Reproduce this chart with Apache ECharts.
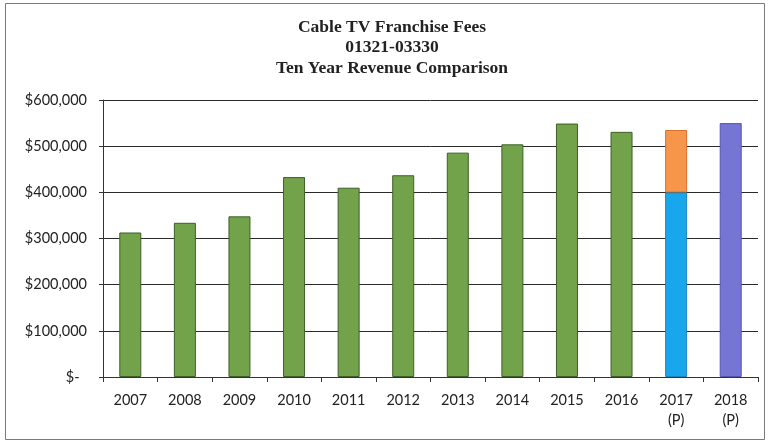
<!DOCTYPE html>
<html>
<head>
<meta charset="utf-8">
<script src="https://cdn.jsdelivr.net/npm/echarts@6/dist/echarts.min.js"></script>
<style>
  html, body { margin: 0; padding: 0; background: #fff; }
  #chart { width: 770px; height: 442px; }
</style>
</head>
<body>
<div id="chart"></div>
<script>
// Fiscal years on the category axis; the last two are projections
const years = ['2007', '2008', '2009', '2010', '2011', '2012', '2013', '2014', '2015', '2016', '2017\n(P)', '2018\n(P)'];

// Actual franchise fee revenue, 2007-2016
const actualFees = [313000, 334000, 348000, 433000, 410000, 437000, 486000, 504000, 549000, 531000, null, null];

// 2017 projection: confirmed base plus projected remainder
const base2017 = [null, null, null, null, null, null, null, null, null, null, 400000, null];
const added2017 = [null, null, null, null, null, null, null, null, null, null, 135000, null];

// 2018 projection
const projected2018 = [null, null, null, null, null, null, null, null, null, null, null, 550000];

// Title lines
const titleLines = ['Cable TV Franchise Fees', '01321-03330', 'Ten Year Revenue Comparison'];

// Value axis range and step
const yMin = 0;
const yMax = 600000;
const yStep = 100000;

const chart = echarts.init(document.getElementById('chart'));

function barSeries(name, data, fill, stroke) {
  return {
    name: name,
    type: 'bar',
    stack: 'fees',
    data: data,
    barWidth: 22,
    itemStyle: { color: fill, borderColor: stroke, borderWidth: 1 },
    emphasis: { disabled: true }
  };
}

chart.setOption({
  animation: false,
  backgroundColor: '#ffffff',
  graphic: [
    {
      type: 'rect',
      shape: { x: 5.5, y: 3.5, width: 759, height: 436 },
      style: { fill: 'none', stroke: '#7a7a7a', lineWidth: 1 },
      silent: true,
      z: -1
    },
    {
      type: 'text',
      x: 392,
      y: 17,
      silent: true,
      style: {
        text: titleLines.join('\n'),
        textAlign: 'center',
        textVerticalAlign: 'top',
        fontFamily: 'Liberation Serif',
        fontWeight: 'bold',
        fontSize: 17.5,
        lineHeight: 20.5,
        fill: '#222'
      }
    }
  ],
  grid: { left: 103, right: 12, top: 100, bottom: 65 },
  xAxis: {
    type: 'category',
    data: years,
    boundaryGap: true,
    axisLine: { show: true, lineStyle: { color: '#333', width: 1 } },
    axisTick: { show: true, length: 5, lineStyle: { color: '#333' } },
    axisLabel: {
      margin: 13,
      fontFamily: 'Lato',
      fontSize: 14.5,
      lineHeight: 20,
      color: '#222'
    }
  },
  yAxis: {
    type: 'value',
    min: yMin,
    max: yMax,
    interval: yStep,
    axisLine: { show: true, lineStyle: { color: '#333', width: 1 } },
    axisTick: { show: true, length: 4, lineStyle: { color: '#333' } },
    splitLine: { show: true, lineStyle: { color: '#2a2a2a', width: 1 } },
    axisLabel: {
      margin: 16,
      fontFamily: 'Lato',
      fontSize: 14.5,
      color: '#222',
      formatter: function (v) {
        if (v === 0) return '$-  ';
        return '$' + v.toLocaleString('en-US');
      }
    }
  },
  series: [
    barSeries('Actual', actualFees, '#72a34a', '#3e5f28'),
    barSeries('2017 base', base2017, '#18a7ec', '#1a86bd'),
    barSeries('2017 projected', added2017, '#f7954a', '#d8722a'),
    barSeries('2018 projected', projected2018, '#7575d4', '#5555b0')
  ]
});
</script>
</body>
</html>
